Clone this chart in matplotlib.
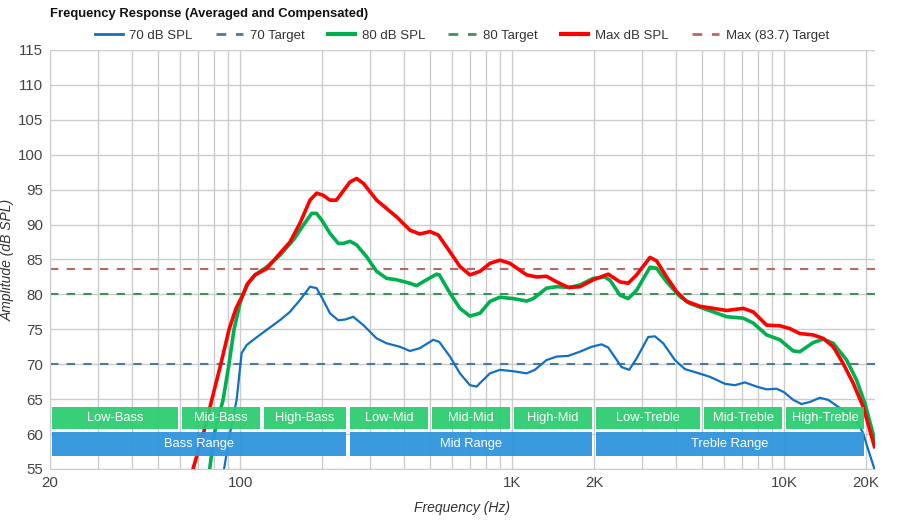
import matplotlib
matplotlib.use("Agg")
import matplotlib.pyplot as plt
from matplotlib.patches import Rectangle
from matplotlib.lines import Line2D

plt.rcParams['font.family'] = ['Liberation Sans', 'DejaVu Sans']

# 70 dB SPL
f70 = [87.3, 91.8, 97.1, 101.3, 105.7, 111.8, 125, 140, 152.5, 166, 180.7, 191.2, 202, 214, 229.6,
       243, 260.6, 284, 317.7, 345.8, 387, 421, 458, 513, 540, 591, 643, 700, 741, 762, 829.5, 902,
       1010, 1131, 1213, 1339, 1458, 1609, 1776, 1961, 2134, 2257, 2527, 2696, 2871, 3166, 3349,
       3597, 3971, 4321, 4770, 5340, 6060, 6594, 7180, 7925, 8630, 9390, 10000, 10810, 11590,
       12440, 13540, 14530, 15820, 17000, 18500, 19500, 20500, 21500]
db70 = [55.0, 60.1, 64.9, 71.6, 72.75, 73.5, 74.9, 76.3, 77.5, 79.2, 81.1, 80.9, 79.2, 77.3, 76.3,
        76.4, 76.8, 75.6, 73.7, 73.0, 72.5, 71.9, 72.3, 73.5, 73.2, 71.1, 68.7, 67.0, 66.8, 67.3,
        68.7, 69.2, 69.0, 68.7, 69.2, 70.6, 71.1, 71.2, 71.8, 72.5, 72.85, 72.4, 69.6, 69.2, 70.85,
        73.9, 74.0, 73.0, 70.6, 69.3, 68.8, 68.2, 67.2, 67.0, 67.4, 66.8, 66.4, 66.5, 66.0, 64.9,
        64.3, 64.6, 65.2, 64.9, 63.9, 63.2, 61.8, 60.2, 57.5, 55.0]

# 80 dB SPL
f80 = [77.3, 80.3, 86.7, 91, 95, 99.9, 105.7, 113.5, 125, 140, 157, 170.7, 183.3, 191, 199.5, 214,
       229.6, 239.5, 253.5, 268, 291.8, 317.7, 345.8, 376, 421, 445.6, 485, 528, 540, 591, 643, 700,
       762, 829.5, 902, 1010, 1131, 1197, 1339, 1458, 1633, 1776, 1989, 2193, 2295, 2492, 2673,
       2871, 3215, 3401, 3700, 4142, 4508, 5045, 5494, 6149, 7080, 7704, 8630, 9660, 10810, 11430,
       12800, 13940, 15170, 16990, 18500, 19830, 21600]
db80 = [55.0, 60.0, 65.0, 70.0, 75.0, 78.7, 81.35, 82.8, 83.9, 85.6, 87.8, 89.9, 91.6, 91.6, 90.65,
        88.75, 87.3, 87.3, 87.6, 87.1, 85.4, 83.3, 82.3, 82.1, 81.6, 81.25, 82.1, 82.9, 82.8, 80.2,
        78.0, 76.9, 77.3, 79.0, 79.6, 79.4, 79.05, 79.4, 80.9, 81.1, 81.0, 81.35, 82.3, 82.5, 82.0,
        79.9, 79.4, 80.6, 83.9, 83.75, 81.8, 79.7, 78.7, 78.0, 77.5, 76.8, 76.6, 75.9, 74.2, 73.5,
        71.9, 71.8, 73.1, 73.6, 73.0, 70.6, 67.7, 64.4, 59.0]

# Max dB SPL
fmax = [67.1, 73.3, 78.8, 84.9, 91.1, 96.6, 102.5, 106.9, 113.5, 125.3, 140.2, 152.5, 166, 180.7,
        191.2, 202, 213.9, 226, 253.5, 268.3, 284, 317.7, 345.8, 376.3, 421.3, 458, 498.6, 535.5,
        591, 643, 700, 762, 829.5, 902, 982, 1131, 1231, 1339, 1458, 1609, 1776, 1989, 2257, 2492,
        2673, 2871, 3215, 3401, 3700, 4027, 4383, 4910, 5494, 6149, 7080, 7704, 8630, 9660, 10510,
        11430, 12800, 13940, 15170, 16500, 17950, 19550, 21500]
dbmax = [55.0, 60.1, 65.0, 70.0, 75.0, 78.0, 80.0, 81.6, 82.8, 83.7, 85.9, 87.5, 90.2, 93.5, 94.5,
         94.2, 93.5, 93.5, 96.1, 96.6, 95.9, 93.5, 92.3, 91.1, 89.2, 88.65, 89.0, 88.5, 86.1, 84.0,
         82.8, 83.3, 84.45, 84.9, 84.45, 82.8, 82.5, 82.6, 81.8, 81.0, 81.1, 82.1, 82.9, 81.8, 81.6,
         82.8, 85.3, 84.8, 82.5, 80.4, 79.0, 78.3, 78.0, 77.7, 78.0, 77.5, 75.6, 75.5, 75.1, 74.4,
         74.2, 73.7, 72.5, 70.1, 67.3, 63.9, 58.2]

targets = [70, 80, 83.7]

# frequency bands
sub_names = ['Low-Bass', 'Mid-Bass', 'High-Bass', 'Low-Mid', 'Mid-Mid', 'High-Mid',
             'Low-Treble', 'Mid-Treble', 'High-Treble']
sub_edges = [20, 60, 120, 250, 500, 1000, 2000, 5000, 10000, 20000]
range_names = ['Bass Range', 'Mid Range', 'Treble Range']
range_edges = [20, 250, 2000, 20000]

xticks = [20, 100, 1000, 2000, 10000, 20000]
xticklabels = ['20', '100', '1K', '2K', '10K', '20K']

c70, c80, cmax = '#1170c4', '#00b04f', '#ff0000'
t70, t80, tmax = '#4b7b9c', '#3f8f5f', '#bd6666'

fig = plt.figure(figsize=(9, 5.2), dpi=100)
ax = fig.add_axes([50 / 900, 1 - 469 / 520, 825 / 900, 419 / 520])
ax.set_xscale('log')
ax.set_xlim(20, 21600)
ax.set_ylim(55, 115)

ax.plot(f70, db70, color=c70, lw=1.6, zorder=3)
ax.plot(f80, db80, color=c80, lw=2.6, zorder=3)
ax.plot(fmax, dbmax, color=cmax, lw=2.6, zorder=4)
for t, c in zip(targets, [t70, t80, tmax]):
    ax.axhline(t, color=c, lw=1.5, dashes=(4, 4), zorder=2)

# band boxes
def band(edges, names, y0, y1, color):
    for i, name in enumerate(names):
        a, b = edges[i], edges[i + 1]
        ax.add_patch(Rectangle((a * 1.018, y0), b / 1.018 - a * 1.018, y1 - y0,
                               facecolor=color, edgecolor='none', alpha=0.95, zorder=5))
        ax.text((a * b) ** 0.5, (y0 + y1) / 2, name, color='white', fontsize=9.3,
                ha='center', va='center', zorder=6)

band(sub_edges, sub_names, 60.7, 63.9, '#2ecc71')
band(range_edges, range_names, 56.9, 60.3, '#2f95dc')

ax.set_xticks(xticks)
ax.set_xticklabels(xticklabels)
ax.set_yticks(range(55, 116, 5))
ax.tick_params(axis='both', which='both', length=0, labelsize=10.8, colors='#444444', pad=5)
ax.tick_params(axis='x', which='minor', labelbottom=False)
ax.grid(True, which='both', color='#cccccc', lw=1, zorder=0)
for s in ['top', 'right']:
    ax.spines[s].set_visible(False)
for s in ['left', 'bottom']:
    ax.spines[s].set_color('#cccccc')

ax.set_xlabel('Frequency (Hz)', fontsize=10, style='italic', color='#333333', labelpad=8)
ax.set_ylabel('Amplitude (dB SPL)', fontsize=10, style='italic', color='#333333', labelpad=2)

fig.text(50 / 900, 1 - 14 / 520, 'Frequency Response (Averaged and Compensated)',
         fontsize=9.4, fontweight='bold', va='center', ha='left', color='#111111')

handles = [
    Line2D([], [], color=c70, lw=2),
    Line2D([], [], color=t70, lw=2, dashes=(3.5, 3.5)),
    Line2D([], [], color=c80, lw=3),
    Line2D([], [], color=t80, lw=2, dashes=(3.5, 3.5)),
    Line2D([], [], color=cmax, lw=3),
    Line2D([], [], color=tmax, lw=2, dashes=(3.5, 3.5)),
]
labels = ['70 dB SPL', '70 Target', '80 dB SPL', '80 Target', 'Max dB SPL', 'Max (83.7) Target']
fig.legend(handles, labels, loc='center', bbox_to_anchor=(462 / 900, 1 - 36 / 520), ncol=6,
           frameon=False, fontsize=9.5, handlelength=2.1, handletextpad=0.5, columnspacing=1.75,
           labelcolor='#333333')

fig.savefig('out.png', dpi=100)
